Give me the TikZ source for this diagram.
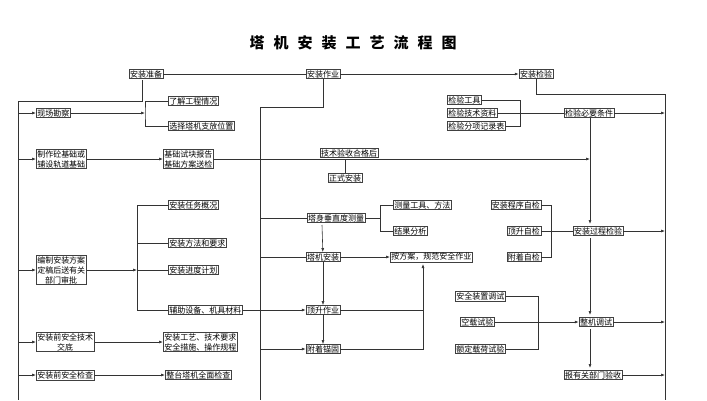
\documentclass[tikz,border=0pt]{standalone}
\usepackage{fontspec}
\usetikzlibrary{arrows.meta}
\newfontfamily\cjk{Noto Sans CJK SC}
\begin{document}
\begin{tikzpicture}[x=1pt,y=-1pt,
  bx/.style={draw=black!75,line width=0.5pt,inner sep=1pt,font=\cjk\fontsize{8}{10}\selectfont,align=center,fill=white},
  ln/.style={draw=black!80,line width=0.6pt},
  ar/.style={ln,-{Latex[length=4pt,width=3pt]}}]
\useasboundingbox (0,0) rectangle (707,400);
\node[font=\cjk\bfseries\fontsize{15}{18}\selectfont] (title) at (353,43) {塔\hspace{0.6em}机\hspace{0.6em}安\hspace{0.6em}装\hspace{0.6em}工\hspace{0.6em}艺\hspace{0.6em}流\hspace{0.6em}程\hspace{0.6em}图};
% top row
\node[bx] (zb) at (146,74) {安装准备};
\node[bx] (zy) at (323,74) {安装作业};
\node[bx] (jy) at (536,74) {安装检验};
\draw[ln] (zb) -- (zy);
\draw[ar] (zy) -- (jy);
% left bus
\coordinate (L0) at (18,101);
\coordinate (L1) at (18,400);
\draw[ln] (142,80) |- (L0) -- (L1);
\node[bx,anchor=west] (kc) at (36,113) {现场勘察};
\node[bx,anchor=west] (zz) at (36,159) {制作砼基础或\\铺设轨道基础};
\node[bx,anchor=west] (bz) at (36,270) {编制安装方案\\定稿后送有关\\部门审批};
\node[bx,anchor=west] (jd) at (36,342) {安装前安全技术\\交底};
\node[bx,anchor=west] (jc) at (36,375) {安装前安全检查};
\foreach \n/\y in {kc/113,zz/159,bz/270,jd/342,jc/375}{\draw[ar] (18,\y) -- (\n.west);}
% group 1
\node[bx,anchor=west] (lj) at (168,101) {了解工程情况};
\node[bx,anchor=west] (xz) at (168,126) {选择塔机支放位置};
\coordinate (b1) at (145,113);
\draw[ar] (kc) -- (b1);
\draw[ln] (lj.west) -| (b1) |- (xz.west);
% group 2
\node[bx,anchor=west] (sk) at (163,159) {基础试块报告\\基础方案送检};
\draw[ar] (zz) -- (sk);
\node[bx] (hg) at (349,153) {技术验收合格后};
\node[bx] (zs) at (345,178) {正式安装};
\coordinate (c590) at (590,159);
\draw[ar] (sk.east) -- (c590);
\draw[ln] (345,159) -- (zs);
\node[bx] (hg2) at (349,153) {技术验收合格后};
% group 3
\node[bx,anchor=west] (rw) at (168,205) {安装任务概况};
\node[bx,anchor=west] (ff) at (168,243) {安装方法和要求};
\node[bx,anchor=west] (jh) at (168,270) {安装进度计划};
\node[bx,anchor=west] (fz) at (168,310) {辅助设备、机具材料};
\coordinate (b3) at (137,270);
\draw[ar] (bz) -- (b3);
\draw[ln] (rw.west) -| (137,310) -- (fz.west);
\draw[ln] (ff.west) -- (137,243);
\draw[ln] (jh.west) -- (b3);
% group 4
\node[bx,anchor=west] (gy) at (163,342) {安装工艺、技术要求\\安全措施、操作规程};
\draw[ar] (jd) -- (gy);
\node[bx,anchor=west] (zt) at (165,375) {整台塔机全面检查};
\draw[ar] (jc) -- (zt);
% middle bus
\draw[ln] (zy.south) |- (260,107) -- (260,400);
\node[bx] (cl) at (336,218) {塔身垂直度测量};
\node[bx] (az) at (323,257) {塔机安装};
\node[bx] (ds) at (323,310) {顶升作业};
\node[bx] (mg) at (323,349) {附着锚固};
\draw[ln] (260,218) -- (cl.west);
\draw[ln] (260,257) -- (az.west);
\draw[ar] (fz.east) -- (ds.west);
\draw[ar] (260,349) -- (mg.west);
\draw[ar] (322,225) -- (az);
\draw[ar] (az) -- (ds);
\draw[ar] (ds) -- (mg);
\node[bx,anchor=west] (gj) at (393,205) {测量工具、方法};
\node[bx,anchor=west] (fx) at (393,231) {结果分析};
\draw[ln] (cl.east) -- (380,218);
\draw[ln] (gj.west) -| (380,231) -- (fx.west);
\node[bx,anchor=west] (af) at (390,257) {按方案，规范安全作业};
\draw[ar] (az) -- (af);
\draw[ln] (ds.east) -| (423,349) -- (mg.east);
\draw[ar] (423,310) -- (423,264);
% right bus
\draw[ln] (jy.south) |- (665,94) -- (665,400);
\node[bx,anchor=west] (gj2) at (447,100) {检验工具};
\node[bx,anchor=west] (zl) at (447,113) {检验技术资料};
\node[bx,anchor=west] (jl) at (447,126) {检验分项记录表};
\node[bx] (tj) at (589,113) {检验必要条件};
\draw[ln] (gj2.east) -| (520,126) -- (jl.east);
\draw[ln] (zl.east) -- (tj);
\draw[ar] (tj) -- (665,113);
\node[bx] (gc) at (598,231) {安装过程检验};
\draw[ar] (tj.south -| 590,0) -- (590,224);
\node[bx,anchor=east] (cx) at (541,205) {安装程序自检};
\node[bx,anchor=east] (dz) at (541,231) {顶升自检};
\node[bx,anchor=east] (fzj) at (541,257) {附着自检};
\draw[ln] (cx.east) -| (551,257) -- (fzj.east);
\draw[ln] (dz.east) -- (gc);
\draw[ar] (gc) -- (665,231);
\node[bx] (tsj) at (596,322) {整机调试};
\draw[ar] (590,238) -- (590,315);
\node[bx,anchor=west] (aq) at (455,296) {安全装置调试};
\node[bx,anchor=west] (kz) at (460,322) {空载试验};
\node[bx,anchor=west] (ed) at (455,349) {额定载荷试验};
\draw[ln] (aq.east) -| (538,349) -- (ed.east);
\draw[ar] (kz) -- (tsj);
\draw[ar] (tsj) -- (665,322);
\node[bx] (ys) at (593,375) {报有关部门验收};
\draw[ar] (590,329) -- (590,368);
\draw[ar] (ys) -- (665,375);
\end{tikzpicture}
\end{document}
